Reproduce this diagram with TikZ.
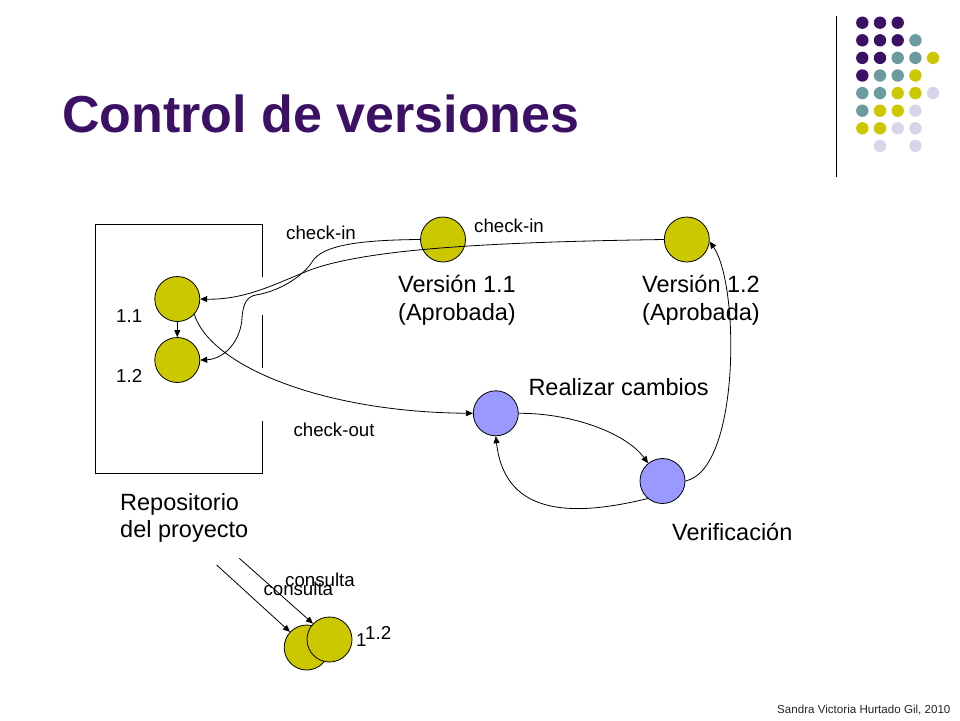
\documentclass[tikz,border=0pt]{standalone}
\usepackage{fontspec}
\setmainfont{Liberation Sans}
\usetikzlibrary{arrows.meta}
\definecolor{dotpurple}{RGB}{60,16,100}
\definecolor{titlepurple}{RGB}{60,16,100}
\definecolor{dotteal}{RGB}{107,155,158}
\definecolor{dotyellow}{RGB}{204,200,0}
\definecolor{dotlav}{RGB}{214,214,234}
\definecolor{nodeblue}{RGB}{153,153,255}
\begin{document}
\begin{tikzpicture}[x=1pt,y=1pt,
  ver/.style={circle,draw=black,line width=0.8pt,fill=dotyellow,minimum size=45pt,inner sep=0pt},
  act/.style={circle,draw=black,line width=0.8pt,fill=nodeblue,minimum size=45pt,inner sep=0pt},
  conn/.style={line width=0.8pt,-{Triangle[length=7pt,width=6pt]}},
  big/.style={font=\fontsize{23.5}{28}\selectfont,inner sep=0pt,anchor=base west},
  small/.style={font=\fontsize{18.7}{22}\selectfont,inner sep=0pt,anchor=base west},
]
\useasboundingbox (0,0) rectangle (960,-720);
\fill[white] (0,0) rectangle (960,-720);

% decorative dot grid and rule
\foreach \r/\c/\col in {0/0/dotpurple,0/1/dotpurple,0/2/dotpurple,
  1/0/dotpurple,1/1/dotpurple,1/2/dotpurple,1/3/dotteal,
  2/0/dotpurple,2/1/dotpurple,2/2/dotteal,2/3/dotteal,2/4/dotyellow,
  3/0/dotpurple,3/1/dotteal,3/2/dotteal,3/3/dotyellow,
  4/0/dotteal,4/1/dotteal,4/2/dotyellow,4/3/dotyellow,4/4/dotlav,
  5/0/dotteal,5/1/dotyellow,5/2/dotyellow,5/3/dotlav,
  6/0/dotyellow,6/1/dotyellow,6/2/dotlav,6/3/dotlav,
  7/1/dotlav,7/3/dotlav}
  \fill[\col] ({862.3+17.7*\c},{-22.7-17.6*\r}) circle (6.2);
\draw[line width=1.2pt] (836.3,-16) -- (836.3,-177);

% title
\node[font=\fontsize{52}{60}\selectfont\bfseries,text=titlepurple,anchor=base west,inner sep=0pt] (title) at (62,-132) {Control de versiones};

% repository box (right edge broken)
\draw[line width=0.8pt] (262,-277) -- (262,-224) -- (95.7,-224) -- (95.7,-473) -- (262,-473) -- (262,-421);
\draw[line width=0.8pt] (262,-315) -- (262,-368);

% nodes
\node[ver] (r11) at (177.3,-299) {};
\node[ver] (r12) at (177.3,-360) {};
\node[ver] (v11) at (443,-239.5) {};
\node[ver] (v12) at (686.8,-239.5) {};
\node[act] (rc) at (495.8,-413.3) {};
\node[act] (vf) at (662.5,-481) {};
\node[ver] (c1) at (306.7,-647.5) {};
\node[ver] (c2) at (329.5,-639.5) {};

% labels
\node[small] (l11) at (116,-322.7) {1.1};
\node[small] (l12) at (116,-382.7) {1.2};
\node[small] (ci1) at (286,-239.3) {check-in};
\node[small] (ci2) at (474,-232.7) {check-in};
\node[small] (co) at (293.3,-436) {check-out};
\node[big] (v11a) at (398,-292.5) {Versión 1.1};
\node[big] (v11b) at (398,-320.5) {(Aprobada)};
\node[big] (v12a) at (642,-292.5) {Versión 1.2};
\node[big] (v12b) at (642,-320.5) {(Aprobada)};
\node[big] (rca) at (528.3,-395) {Realizar cambios};
\node[big] (vfa) at (672,-540) {Verificación};
\node[big] (repa) at (120,-510) {Repositorio};
\node[big] (repb) at (120,-537) {del proyecto};
\node[small] (cq1) at (263.3,-595) {consulta};
\node[small] (cq2) at (285,-586) {consulta};
\node[small] (cl1) at (356,-646.7) {1};
\node[small] (cl2) at (365,-639) {1.2};
\node[font=\fontsize{11.6}{14}\selectfont,anchor=base west,inner sep=0pt,text=black!85] (credit) at (777,-713) {Sandra Victoria Hurtado Gil, 2010};

% connectors
\draw[conn] (r11) -- (r12);
\draw[conn] (v11.west) .. controls (360,-240) and (322,-245) .. (312,-262)
  .. controls (306,-272) and (285,-290) .. (256,-295)
  .. controls (248,-296.4) and (243,-302) .. (242,-318)
  .. controls (241,-340) and (225,-359) .. (r12.east);
\draw[conn] (v12.west) .. controls (500,-242) and (370,-248) .. (310,-270)
  .. controls (275,-284) and (245,-300) .. (r11.east);
\draw[conn] (r11.-42) .. controls (210,-365) and (320,-412) .. (rc.west);
\draw[conn] (rc.east) .. controls (570,-413) and (625,-432) .. (vf.129);
\draw[conn] (vf.230) .. controls (580,-515) and (505,-520) .. (rc.south);
\draw[conn] (vf.east) .. controls (740,-470) and (740,-285) .. (v12.-5);
\coordinate (s1) at (216.7,-565);
\coordinate (s2) at (239.3,-558.3);
\draw[conn] (s1) -- (c1.137);
\draw[conn] (s2) -- (c2.136);
\end{tikzpicture}
\end{document}
